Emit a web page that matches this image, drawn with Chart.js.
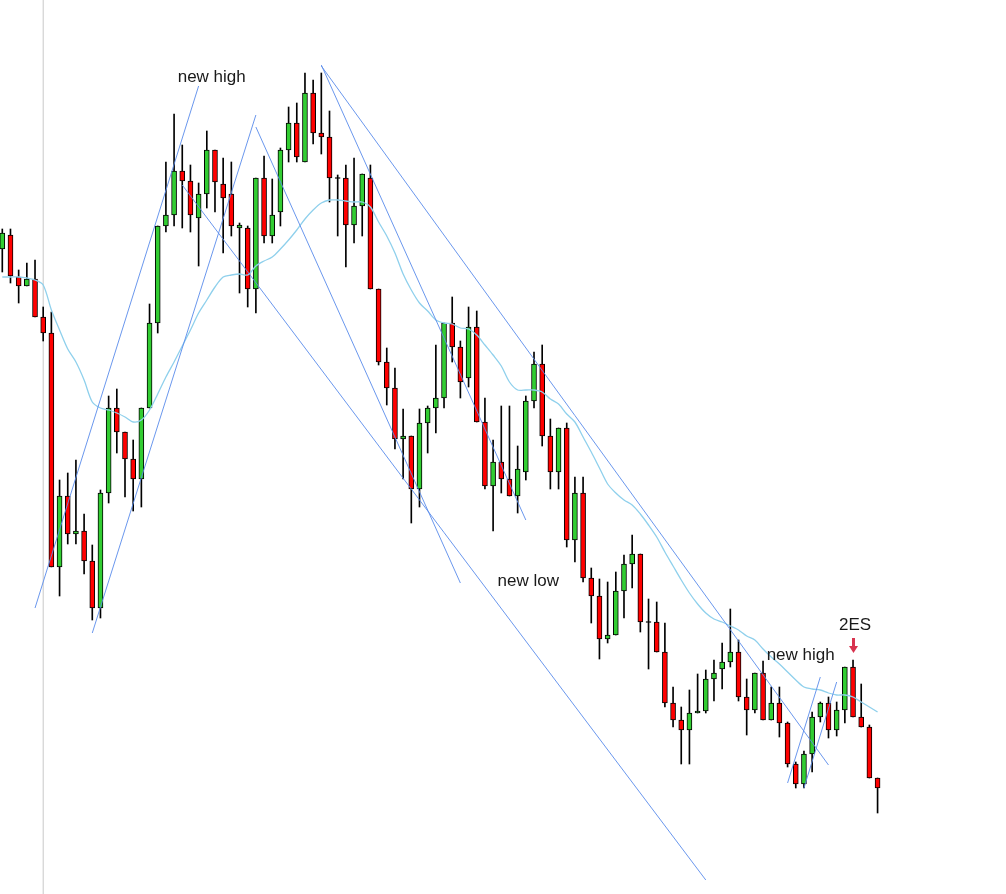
<!DOCTYPE html>
<html>
<head>
<meta charset="utf-8">
<title>Candles</title>
<script src="https://cdn.jsdelivr.net/npm/chart.js@4.4.1/dist/chart.umd.min.js"></script>
<style>
    body { margin: 0; background: #ffffff; }
    canvas { display: block; }
</style>
</head>
<body>
<canvas id="priceChart" width="1006" height="894"></canvas>
<script>
// OHLC, one entry per bar (index 0..107)
const opens = [651,665,623,614,621,583,567,333,404,366,369,339,292,407,492,468,441,421,492,577,674,685,729,719,682,706,750,716,706,672,
    672,611,722,664,688,750,777,738,807,767,763,722,722,675,694,722,611,538,512,461,464,411,477,492,502,577,553,522,573,478,
    414,438,421,404,428,499,536,464,428,472,360,407,322,304,261,265,309,336,346,278,278,248,197,180,170,187,189,221,231,238,
    248,203,190,227,180,197,177,136,116,146,183,197,170,190,233,183,173,122];
const highs = [671,671,630,637,640,593,588,420,427,440,386,355,410,504,511,468,460,492,596,674,738,786,755,735,717,769,750,742,738,677,
    674,722,744,721,752,793,797,827,820,827,789,725,735,742,726,735,611,552,532,491,464,491,494,555,577,603,559,593,589,502,
    460,494,494,454,504,548,555,481,472,477,423,423,332,321,318,328,345,365,346,301,298,277,213,193,210,226,230,240,257,291,
    260,221,227,239,213,213,178,138,149,188,198,203,198,233,240,216,175,122];
const lows = [628,617,597,614,583,559,333,304,356,356,326,280,282,397,447,403,389,393,492,567,668,674,672,668,634,692,688,647,664,607,
    593,587,657,657,674,738,738,738,756,746,698,664,633,657,664,611,535,495,451,421,377,393,447,467,492,538,502,513,478,411,
    369,407,404,387,420,492,454,411,411,353,338,318,277,241,257,265,282,312,268,231,248,193,173,136,136,187,187,199,211,233,
    199,165,187,180,180,163,133,112,112,128,178,162,164,177,183,173,122,87];
const closes = [667,624,614,621,583,567,333,404,366,369,339,292,407,492,468,441,421,492,577,674,685,729,719,685,706,750,718,702,674,675,
    611,722,664,685,750,777,743,807,767,763,722,722,675,694,726,611,538,512,461,464,411,477,492,502,577,553,518,573,478,414,
    438,421,404,431,499,536,464,428,472,360,407,322,304,261,265,309,336,346,278,278,248,197,180,170,187,189,221,227,238,248,
    203,190,227,180,197,177,136,116,146,183,197,170,190,233,183,173,122,112];

// moving average as drawn, read at each bar
const maValues = [623,623,623,622,620,615,590,570,551,538,520,498,492,490,487,483,478,480,490,506,523,538,554,570,587,600,613,623,625,626,
    625,634,639,643,651,660,670,681,690,697,700,700,699,698,698,693,678,664,647,626,610,597,589,580,577,576,572,571,565,555,
    545,534,518,510,510,510,508,501,496,486,478,463,448,432,416,407,400,395,386,375,363,348,334,320,307,296,287,281,278,274,
    270,264,260,251,243,236,228,220,213,211,210,207,205,205,203,198,193,188];

// trend lines: [fromIndex, fromValue, toIndex, toValue]
const trendLines = [
    [4, 292, 24, 814],
    [11, 267, 31, 785],
    [31, 773, 56, 317],
    [22, 715, 86, 20],
    [39, 835, 64, 380],
    [39, 834, 101, 135],
    [96, 117, 100, 223],
    [98, 112, 102, 218]
];

const sessionBreak = 5;

const noteTexts = ['new high', 'new low', 'new high', '2ES'];
const noteX = [25.6, 64.3, 97.6, 104.25];
const noteY = [823, 319, 245, 275];
const signalBar = 104;

const UP = '#32CD32';
const DOWN = '#FF0000';

class CandleChart {
    constructor() {
        this.init();
    }

    init() {
        const ctx = document.getElementById('priceChart').getContext('2d');

        const wicks = lows.map((l, i) => ({ x: i, y: [l, highs[i]] }));
        const bodies = opens.map((o, i) => {
            const c = closes[i];
            if (o === c) return { x: i, y: [o - 0.5, o + 0.5] };
            return { x: i, y: [Math.min(o, c), Math.max(o, c)] };
        });
        const bodyColors = opens.map((o, i) => closes[i] > o ? UP : (closes[i] < o ? DOWN : '#000000'));

        const datasets = [];

        trendLines.forEach(t => {
            datasets.push({
                type: 'line',
                data: [{ x: t[0], y: t[1] }, { x: t[2], y: t[3] }],
                borderColor: 'rgba(90, 140, 235, 0.9)',
                borderWidth: 1,
                pointRadius: 0,
                order: 1
            });
        });

        datasets.push({
            type: 'line',
            data: maValues.map((v, i) => ({ x: i, y: v })),
            borderColor: '#8fd0ec',
            borderWidth: 1.3,
            pointRadius: 0,
            tension: 0.3,
            order: 2
        });

        datasets.push({
            type: 'bar',
            data: bodies,
            backgroundColor: bodyColors,
            borderColor: '#000000',
            borderWidth: 1,
            borderSkipped: false,
            barThickness: 5,
            grouped: false,
            order: 3
        });

        datasets.push({
            type: 'bar',
            data: wicks,
            backgroundColor: '#000000',
            borderWidth: 0,
            barThickness: 1,
            grouped: false,
            order: 4
        });

        datasets.push({
            type: 'line',
            data: [{ x: sessionBreak, y: 6 }, { x: sessionBreak, y: 900 }],
            borderColor: '#c8c8c8',
            borderWidth: 1,
            pointRadius: 0,
            order: 5
        });

        new Chart(ctx, {
            type: 'bar',
            data: { datasets: datasets },
            options: {
                responsive: false,
                animation: false,
                devicePixelRatio: 1,
                layout: { padding: 0 },
                plugins: {
                    legend: { display: false },
                    tooltip: { enabled: false }
                },
                scales: {
                    x: {
                        type: 'linear',
                        display: false,
                        offset: false,
                        min: -0.281,
                        max: 122.7
                    },
                    y: {
                        type: 'linear',
                        display: false,
                        min: 6,
                        max: 900
                    }
                }
            },
            plugins: [this.notesPlugin()]
        });
    }

    notesPlugin() {
        return {
            id: 'notes',
            afterDatasetsDraw(chart) {
                const c = chart.ctx;
                const xs = chart.scales.x;
                const ys = chart.scales.y;
                c.save();
                c.font = '17px "Liberation Sans", Arial, sans-serif';
                c.fillStyle = '#1a1a1a';
                c.textAlign = 'center';
                c.textBaseline = 'middle';
                noteTexts.forEach((t, i) => {
                    c.fillText(t, xs.getPixelForValue(noteX[i]), ys.getPixelForValue(noteY[i]));
                });

                // red arrow above the signal bar
                const ax = Math.round(xs.getPixelForValue(signalBar)) + 0.5;
                const tip = ys.getPixelForValue(highs[signalBar]) - 7;
                const top = tip - 15;
                c.fillStyle = '#d8344f';
                c.fillRect(ax - 1.5, top, 3, 9);
                c.beginPath();
                c.moveTo(ax - 4.5, top + 8);
                c.lineTo(ax + 4.5, top + 8);
                c.lineTo(ax, tip);
                c.closePath();
                c.fill();
                c.restore();
            }
        };
    }
}

document.addEventListener('DOMContentLoaded', () => {
    new CandleChart();
});
</script>
</body>
</html>
